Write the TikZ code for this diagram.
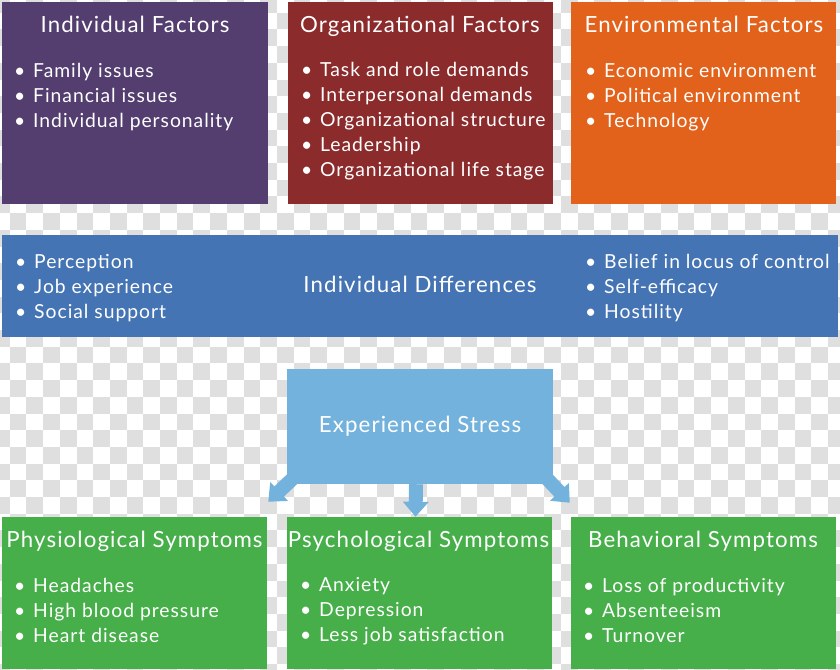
\documentclass[tikz,border=0pt]{standalone}
\usepackage{fontspec}
\setmainfont{Lato}[LetterSpace=5]
\usepackage{xcolor}
\usepackage{tikz}
\usetikzlibrary{arrows.meta, positioning}

\definecolor{indivcol}{HTML}{533E6F}
\definecolor{orgcol}{HTML}{8C2B2C}
\definecolor{envcol}{HTML}{E2621B}
\definecolor{diffcol}{HTML}{4474B4}
\definecolor{stresscol}{HTML}{72B2DD}
\definecolor{symcol}{HTML}{46AF49}

\tikzset{
  box/.style={inner sep=0, minimum width=7.95cm},
  ttl/.style={anchor=base, text=white, inner sep=0, font=\fontsize{19}{22}\selectfont},
  itm/.style={anchor=base west, text=white, inner sep=0, font=\fontsize{16.5}{20}\selectfont},
  fat/.style={stresscol, line width=0.42cm, -{Triangle[width=0.75cm,length=0.45cm]}}
}
\newcommand{\blt}{\makebox[0.57cm][l]{\textbullet}}

\begin{document}
\begin{tikzpicture}[x=0.03cm, y=-0.03cm]
    \useasboundingbox (0,0) rectangle (840,669);
    \clip (0,0) rectangle (840,669);

    % Scacchiera
    \foreach \i in {0,...,51}
      \foreach \j in {0,...,41} {
        \pgfmathtruncatemacro\k{mod(\i+\j,2)}
        \ifnum\k=0 \fill[gray!25] (\i*16.7-7,\j*16.7-4) rectangle ++(16.7,16.7); \fi
      }

    % Fattori
    \node[box, fill=indivcol, minimum height=6.06cm] (indiv) at (135,103) {};
    \node[box, fill=orgcol, minimum height=6.06cm] (org) at (420.5,103) {};
    \node[box, fill=envcol, minimum height=6.06cm] (env) at (703.5,103) {};
    \node[ttl] (indivT) at (135,32) {Individual Factors};
    \node[ttl] (orgT) at (420,32) {Organizational Factors};
    \node[ttl] (envT) at (704,32) {Environmental Factors};
    \foreach \t [count=\i] in {Family issues, Financial issues, Individual personality}
      \node[itm] (indiv-\i) at (14,52+25*\i) {\blt\t};
    \foreach \t [count=\i] in {Task and role demands, Interpersonal demands, Organizational structure, Leadership, Organizational life stage}
      \node[itm] (org-\i) at (301,51+25*\i) {\blt\t};
    \foreach \t [count=\i] in {Economic environment, Political environment, Technology}
      \node[itm] (env-\i) at (585,52+25*\i) {\blt\t};

    % Differenze individuali
    \node[box, fill=diffcol, minimum width=25.08cm, minimum height=3.06cm] (diff) at (420,286) {};
    \node[ttl] (diffT) at (420,292) {Individual Differences};
    \foreach \t [count=\i] in {Perception, Job experience, Social support}
      \node[itm] (diffL-\i) at (15,243+25*\i) {\blt\t};
    \foreach \t [count=\i] in {Belief in locus of control, Self-efficacy, Hostility}
      \node[itm] (diffR-\i) at (585,243+25*\i) {\blt\t};

    % Stress
    \node[box, fill=stresscol, minimum height=3.45cm] (stress) at (420,426.5) {};
    \node[ttl] (stressT) at (420,432) {Experienced Stress};

    % Sintomi
    \node[box, fill=symcol, minimum height=4.56cm] (phys) at (134.5,593) {};
    \node[box, fill=symcol, minimum height=4.56cm] (psych) at (419.5,593) {};
    \node[box, fill=symcol, minimum height=4.56cm] (behav) at (703.5,593) {};
    \node[ttl] (physT) at (134.5,547) {Physiological Symptoms};
    \node[ttl] (psychT) at (418.5,547) {Psychological Symptoms};
    \node[ttl] (behavT) at (703,547) {Behavioral Symptoms};
    \foreach \t [count=\i] in {Headaches, High blood pressure, Heart disease}
      \node[itm] (phys-\i) at (14,567+25*\i) {\blt\t};
    \foreach \t [count=\i] in {Anxiety, Depression, Less job satisfaction}
      \node[itm] (psych-\i) at (300,566+25*\i) {\blt\t};
    \foreach \t [count=\i] in {Loss of productivity, Absenteeism, Turnover}
      \node[itm] (behav-\i) at (583,567+25*\i) {\blt\t};

    % Frecce
    \draw[fat] ([shift={(8,-8)}]stress.south west) -- ([shift={(1,-15)}]phys.north east);
    \draw[fat] ([shift={(-4,0)}]stress.south) -- ([shift={(-4,0)}]psych.north);
    \draw[fat] ([shift={(-8,-8)}]stress.south east) -- ([shift={(-1,-14)}]behav.north west);
\end{tikzpicture}
\end{document}
